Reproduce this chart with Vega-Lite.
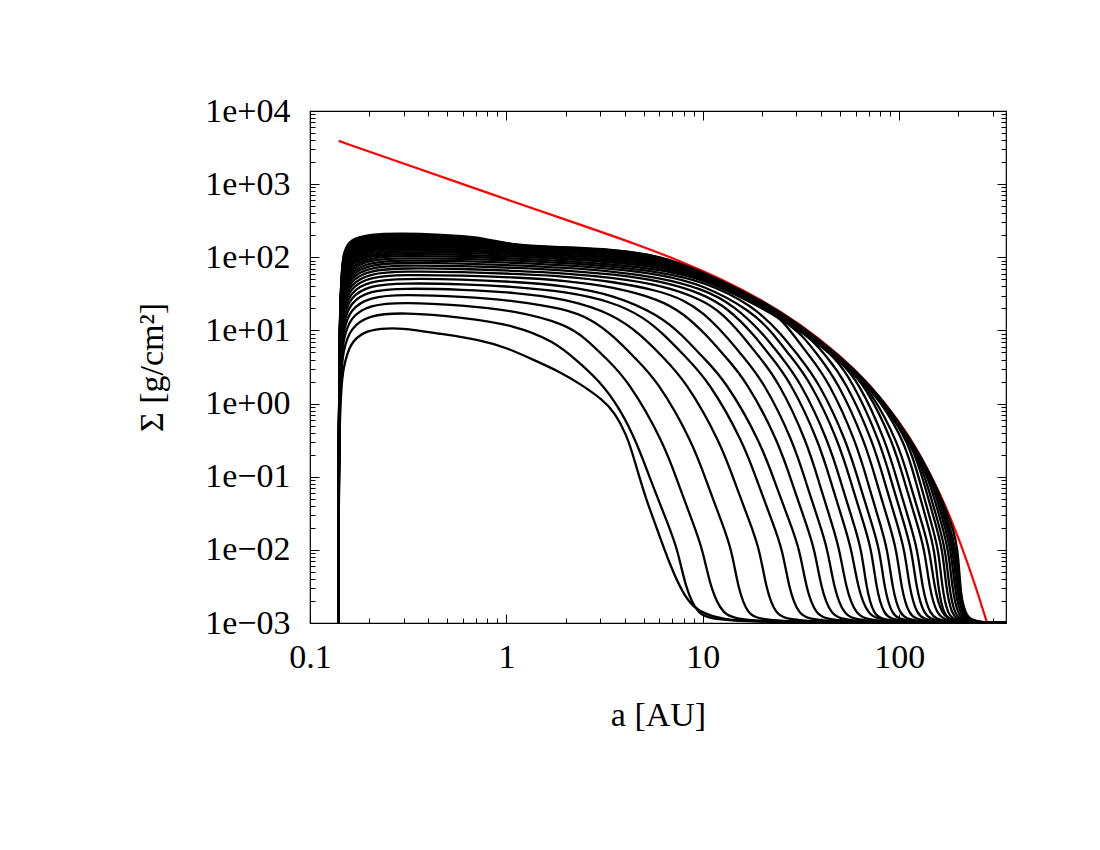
{
"$schema": "https://vega.github.io/schema/vega-lite/v6.json",
"width": 696, "height": 512,
"autosize": "none",
"padding": {"left": 310, "top": 111, "right": 94, "bottom": 227},
"background": "white",
"config": {"view": {"stroke": "#000", "strokeWidth": 1.2}, "font": "Liberation Serif"},
"datasets": {
"red": [
{"a":0.14,"s":3900},{"a":0.3,"s":1912},{"a":1,"s":620},{"a":2.99,"s":226},{"a":4.78,"s":144.5},{"a":7.64,"s":89.4},{"a":12.2,"s":51.8},{"a":19.5,"s":27.2},{"a":31.2,"s":12.4},{"a":49.8,"s":4.63},{"a":70.8,"s":1.84},{"a":100.6,"s":0.566},{"a":127.2,"s":0.209},{"a":160.7,"s":0.0604},{"a":180.7,"s":0.0292},{"a":203.2,"s":0.0133},{"a":242.2,"s":0.0035},{"a":272.3,"s":0.00128},{"a":288.8,"s":0.00078}
],
"curves": [
{"k":0,"a":0.139,"s":0.0001},{"k":0,"a":0.1402,"s":1.1},{"k":0,"a":0.148,"s":3.2},{"k":0,"a":0.16,"s":6.7},{"k":0,"a":0.187,"s":9.6},{"k":0,"a":0.23,"s":10.6},{"k":0,"a":0.287,"s":10.9},{"k":0,"a":0.459,"s":9.0},{"k":0,"a":0.733,"s":7.47},{"k":0,"a":1.006,"s":5.78},{"k":0,"a":1.317,"s":4.17},{"k":0,"a":1.87,"s":2.73},{"k":0,"a":2.366,"s":1.87},{"k":0,"a":3.11,"s":1.12},{"k":0,"a":3.57,"s":0.745},{"k":0,"a":4.09,"s":0.37},{"k":0,"a":4.35,"s":0.224},{"k":0,"a":4.68,"s":0.1145},{"k":0,"a":5.15,"s":0.049},{"k":0,"a":5.81,"s":0.0203},{"k":0,"a":6.79,"s":0.0063},{"k":0,"a":7.94,"s":0.0025},{"k":0,"a":8.93,"s":0.00166},{"k":0,"a":10.44,"s":0.0013},{"k":0,"a":12.94,"s":0.00112},{"k":0,"a":17.3,"s":0.00103},{"k":0,"a":400,"s":0.001},
{"k":1,"a":0.139,"s":0.0001},{"k":1,"a":0.1402,"s":1.8},{"k":1,"a":0.148,"s":5.5},{"k":1,"a":0.16,"s":10.7},{"k":1,"a":0.2,"s":16.3},{"k":1,"a":0.3,"s":17.7},{"k":1,"a":0.6,"s":15.1},{"k":1,"a":1.1,"s":11.8},{"k":1,"a":1.749,"s":7.1},{"k":1,"a":2.28,"s":3.9},{"k":1,"a":2.98,"s":2.05},{"k":1,"a":3.79,"s":0.85},{"k":1,"a":4.6,"s":0.3},{"k":1,"a":5.58,"s":0.0736},{"k":1,"a":6.61,"s":0.0235},{"k":1,"a":7.46,"s":0.01},{"k":1,"a":8.18,"s":0.003},{"k":1,"a":9.39,"s":0.0013},{"k":1,"a":11.82,"s":0.001},{"k":1,"a":400,"s":0.001},
{"k":2,"a":0.139,"s":0.0001},{"k":2,"a":0.1402,"s":2.5},{"k":2,"a":0.148,"s":7.8},{"k":2,"a":0.16,"s":15},{"k":2,"a":0.2,"s":22.5},{"k":2,"a":0.3,"s":24.4},{"k":2,"a":0.6,"s":22.1},{"k":2,"a":1.1,"s":18.7},{"k":2,"a":2,"s":12.2},{"k":2,"a":2.512,"s":7.9},{"k":2,"a":3.24,"s":4.07},{"k":2,"a":4.17,"s":2.07},{"k":2,"a":6.31,"s":0.3},{"k":2,"a":7.59,"s":0.0736},{"k":2,"a":8.91,"s":0.0235},{"k":2,"a":10,"s":0.01},{"k":2,"a":10.96,"s":0.003},{"k":2,"a":12.59,"s":0.0013},{"k":2,"a":15.85,"s":0.001},{"k":2,"a":400,"s":0.001},
{"k":3,"a":0.139,"s":0.0001},{"k":3,"a":0.1402,"s":3.3},{"k":3,"a":0.148,"s":10.3},{"k":3,"a":0.16,"s":19.3},{"k":3,"a":0.2,"s":28.8},{"k":3,"a":0.3,"s":31.1},{"k":3,"a":0.6,"s":29},{"k":3,"a":1.1,"s":25.6},{"k":3,"a":2,"s":19.7},{"k":3,"a":2.7,"s":14.3},{"k":3,"a":3.53,"s":8.3},{"k":3,"a":4.55,"s":4.1},{"k":3,"a":5.86,"s":2.08},{"k":3,"a":8.87,"s":0.3},{"k":3,"a":10.66,"s":0.0736},{"k":3,"a":12.52,"s":0.0235},{"k":3,"a":14.05,"s":0.01},{"k":3,"a":15.13,"s":0.003},{"k":3,"a":16.89,"s":0.0013},{"k":3,"a":20.32,"s":0.001},{"k":3,"a":400,"s":0.001},
{"k":4,"a":0.139,"s":0.0001},{"k":4,"a":0.1402,"s":4},{"k":4,"a":0.148,"s":12.9},{"k":4,"a":0.16,"s":23.8},{"k":4,"a":0.2,"s":35.1},{"k":4,"a":0.3,"s":37.8},{"k":4,"a":0.6,"s":36.2},{"k":4,"a":1.1,"s":33},{"k":4,"a":2,"s":27.2},{"k":4,"a":3.5,"s":16.8},{"k":4,"a":4.9,"s":8.5},{"k":4,"a":6.3,"s":4.25},{"k":4,"a":8.13,"s":2.09},{"k":4,"a":12.3,"s":0.3},{"k":4,"a":14.8,"s":0.0736},{"k":4,"a":17.4,"s":0.0235},{"k":4,"a":19.5,"s":0.01},{"k":4,"a":21,"s":0.003},{"k":4,"a":23.4,"s":0.0013},{"k":4,"a":28.2,"s":0.001},{"k":4,"a":400,"s":0.001},
{"k":5,"a":0.139,"s":0.0001},{"k":5,"a":0.1402,"s":4.8},{"k":5,"a":0.148,"s":15.6},{"k":5,"a":0.16,"s":28.3},{"k":5,"a":0.2,"s":41.4},{"k":5,"a":0.3,"s":44.5},{"k":5,"a":0.6,"s":43.1},{"k":5,"a":1.1,"s":39.6},{"k":5,"a":2,"s":34},{"k":5,"a":3.5,"s":24.5},{"k":5,"a":5,"s":15.2},{"k":5,"a":6.41,"s":8.6},{"k":5,"a":8.2,"s":4.3},{"k":5,"a":10.63,"s":2.1},{"k":5,"a":16.1,"s":0.3},{"k":5,"a":19.35,"s":0.0736},{"k":5,"a":22.7,"s":0.0235},{"k":5,"a":25.5,"s":0.01},{"k":5,"a":27.45,"s":0.003},{"k":5,"a":30.65,"s":0.0013},{"k":5,"a":36.85,"s":0.001},{"k":5,"a":400,"s":0.001},
{"k":6,"a":0.139,"s":0.0001},{"k":6,"a":0.1402,"s":5.6},{"k":6,"a":0.148,"s":18.4},{"k":6,"a":0.16,"s":33},{"k":6,"a":0.2,"s":47.7},{"k":6,"a":0.3,"s":51.2},{"k":6,"a":0.6,"s":49.9},{"k":6,"a":1.1,"s":46.3},{"k":6,"a":2,"s":40.8},{"k":6,"a":3.5,"s":30.8},{"k":6,"a":6,"s":16.2},{"k":6,"a":7.84,"s":8.7},{"k":6,"a":10,"s":4.3},{"k":6,"a":13,"s":2.1},{"k":6,"a":19.7,"s":0.3},{"k":6,"a":23.7,"s":0.0736},{"k":6,"a":27.8,"s":0.0235},{"k":6,"a":31.2,"s":0.01},{"k":6,"a":33.6,"s":0.003},{"k":6,"a":37.5,"s":0.0013},{"k":6,"a":45.1,"s":0.001},{"k":6,"a":400,"s":0.001},
{"k":7,"a":0.139,"s":0.0001},{"k":7,"a":0.1402,"s":6.5},{"k":7,"a":0.148,"s":21.4},{"k":7,"a":0.16,"s":37.7},{"k":7,"a":0.2,"s":54.1},{"k":7,"a":0.3,"s":57.9},{"k":7,"a":0.6,"s":56.5},{"k":7,"a":1.1,"s":53.3},{"k":7,"a":2,"s":48},{"k":7,"a":3.5,"s":39.4},{"k":7,"a":6,"s":26.7},{"k":7,"a":8,"s":17},{"k":7,"a":10.43,"s":8.7},{"k":7,"a":12.9,"s":4.5},{"k":7,"a":16.6,"s":2.1},{"k":7,"a":24.35,"s":0.3},{"k":7,"a":28.85,"s":0.0736},{"k":7,"a":33.46,"s":0.0235},{"k":7,"a":37.2,"s":0.01},{"k":7,"a":40.05,"s":0.003},{"k":7,"a":44.7,"s":0.0013},{"k":7,"a":53.8,"s":0.001},{"k":7,"a":400,"s":0.001},
{"k":8,"a":0.139,"s":0.0001},{"k":8,"a":0.1402,"s":7.3},{"k":8,"a":0.148,"s":24.5},{"k":8,"a":0.16,"s":42.5},{"k":8,"a":0.2,"s":60.5},{"k":8,"a":0.3,"s":64.6},{"k":8,"a":0.6,"s":63},{"k":8,"a":1.1,"s":59.4},{"k":8,"a":2,"s":54.9},{"k":8,"a":3.5,"s":46.5},{"k":8,"a":6,"s":34.9},{"k":8,"a":8,"s":26.1},{"k":8,"a":10,"s":17.7},{"k":8,"a":13,"s":8.7},{"k":8,"a":15.9,"s":4.5},{"k":8,"a":20.2,"s":2.1},{"k":8,"a":29,"s":0.3},{"k":8,"a":34,"s":0.0736},{"k":8,"a":39.2,"s":0.0235},{"k":8,"a":43.3,"s":0.01},{"k":8,"a":46.6,"s":0.003},{"k":8,"a":52,"s":0.0013},{"k":8,"a":62.6,"s":0.001},{"k":8,"a":400,"s":0.001},
{"k":9,"a":0.139,"s":0.0001},{"k":9,"a":0.1402,"s":8.2},{"k":9,"a":0.148,"s":27.8},{"k":9,"a":0.16,"s":47.5},{"k":9,"a":0.2,"s":66.9},{"k":9,"a":0.3,"s":71.3},{"k":9,"a":0.6,"s":69.5},{"k":9,"a":1.1,"s":65.6},{"k":9,"a":2,"s":60.6},{"k":9,"a":3.5,"s":52.6},{"k":9,"a":6,"s":42.3},{"k":9,"a":10,"s":26.4},{"k":9,"a":12.6,"s":16.9},{"k":9,"a":15.8,"s":8.75},{"k":9,"a":19.15,"s":4.5},{"k":9,"a":24.1,"s":2.1},{"k":9,"a":34,"s":0.3},{"k":9,"a":39.6,"s":0.0736},{"k":9,"a":45.3,"s":0.0235},{"k":9,"a":49.8,"s":0.01},{"k":9,"a":53.6,"s":0.003},{"k":9,"a":59.9,"s":0.0013},{"k":9,"a":72,"s":0.001},{"k":9,"a":400,"s":0.001},
{"k":10,"a":0.139,"s":0.0001},{"k":10,"a":0.1402,"s":9.1},{"k":10,"a":0.148,"s":31.2},{"k":10,"a":0.16,"s":52.5},{"k":10,"a":0.2,"s":73.3},{"k":10,"a":0.3,"s":78},{"k":10,"a":0.6,"s":76},{"k":10,"a":1.1,"s":71.8},{"k":10,"a":2,"s":66.3},{"k":10,"a":3.5,"s":58.5},{"k":10,"a":6,"s":47.9},{"k":10,"a":10,"s":32},{"k":10,"a":13.5,"s":19.8},{"k":10,"a":18.2,"s":8.8},{"k":10,"a":22,"s":4.5},{"k":10,"a":27.7,"s":2.1},{"k":10,"a":39.1,"s":0.3},{"k":10,"a":45.6,"s":0.0736},{"k":10,"a":52.1,"s":0.0235},{"k":10,"a":57.3,"s":0.01},{"k":10,"a":61.7,"s":0.003},{"k":10,"a":68.9,"s":0.0013},{"k":10,"a":82.8,"s":0.001},{"k":10,"a":400,"s":0.001},
{"k":11,"a":0.139,"s":0.0001},{"k":11,"a":0.1402,"s":10},{"k":11,"a":0.148,"s":34.7},{"k":11,"a":0.16,"s":57.6},{"k":11,"a":0.2,"s":79.8},{"k":11,"a":0.3,"s":84.7},{"k":11,"a":0.6,"s":82.6},{"k":11,"a":1.1,"s":77.9},{"k":11,"a":2,"s":72},{"k":11,"a":3.5,"s":64},{"k":11,"a":6,"s":53.1},{"k":11,"a":10,"s":37.2},{"k":11,"a":14.5,"s":21.9},{"k":11,"a":20.5,"s":8.8},{"k":11,"a":24.8,"s":4.5},{"k":11,"a":31.1,"s":2.1},{"k":11,"a":43.9,"s":0.3},{"k":11,"a":51.2,"s":0.0736},{"k":11,"a":58.5,"s":0.0235},{"k":11,"a":64.4,"s":0.01},{"k":11,"a":68.05,"s":0.003},{"k":11,"a":73.9,"s":0.0013},{"k":11,"a":84.9,"s":0.001},{"k":11,"a":400,"s":0.001},
{"k":12,"a":0.139,"s":0.0001},{"k":12,"a":0.1402,"s":11},{"k":12,"a":0.148,"s":38.4},{"k":12,"a":0.16,"s":62.9},{"k":12,"a":0.2,"s":86.3},{"k":12,"a":0.3,"s":91.4},{"k":12,"a":0.6,"s":89.1},{"k":12,"a":1.1,"s":84.1},{"k":12,"a":2,"s":77.7},{"k":12,"a":3.5,"s":69.5},{"k":12,"a":6,"s":58.3},{"k":12,"a":10,"s":42.7},{"k":12,"a":18,"s":18},{"k":12,"a":23,"s":8.8},{"k":12,"a":27.8,"s":4.5},{"k":12,"a":35,"s":2.1},{"k":12,"a":49.4,"s":0.3},{"k":12,"a":57.6,"s":0.0736},{"k":12,"a":65.8,"s":0.0235},{"k":12,"a":72.4,"s":0.01},{"k":12,"a":76.5,"s":0.003},{"k":12,"a":83.1,"s":0.0013},{"k":12,"a":95.4,"s":0.001},{"k":12,"a":400,"s":0.001},
{"k":13,"a":0.139,"s":0.0001},{"k":13,"a":0.1402,"s":11.9},{"k":13,"a":0.148,"s":42.2},{"k":13,"a":0.16,"s":68.2},{"k":13,"a":0.2,"s":92.8},{"k":13,"a":0.3,"s":98.1},{"k":13,"a":0.6,"s":95.6},{"k":13,"a":1.1,"s":90.3},{"k":13,"a":2,"s":83.4},{"k":13,"a":3.5,"s":74.6},{"k":13,"a":6,"s":63},{"k":13,"a":10,"s":47.5},{"k":13,"a":18,"s":22.1},{"k":13,"a":25.3,"s":8.8},{"k":13,"a":30.6,"s":4.5},{"k":13,"a":38.5,"s":2.1},{"k":13,"a":54.3,"s":0.3},{"k":13,"a":63.3,"s":0.0736},{"k":13,"a":72.3,"s":0.0235},{"k":13,"a":79.6,"s":0.01},{"k":13,"a":84.1,"s":0.003},{"k":13,"a":91.4,"s":0.0013},{"k":13,"a":104.9,"s":0.001},{"k":13,"a":400,"s":0.001},
{"k":14,"a":0.139,"s":0.0001},{"k":14,"a":0.1402,"s":12.9},{"k":14,"a":0.148,"s":46.1},{"k":14,"a":0.16,"s":73.7},{"k":14,"a":0.2,"s":99.3},{"k":14,"a":0.3,"s":104.8},{"k":14,"a":0.6,"s":102.2},{"k":14,"a":1.1,"s":96.4},{"k":14,"a":2,"s":89.1},{"k":14,"a":3.5,"s":79.6},{"k":14,"a":6,"s":68.5},{"k":14,"a":10,"s":51.1},{"k":14,"a":18,"s":23.7},{"k":14,"a":23,"s":16.2},{"k":14,"a":25,"s":14.2},{"k":14,"a":28.9,"s":8.8},{"k":14,"a":34.8,"s":4.5},{"k":14,"a":43.4,"s":2.1},{"k":14,"a":60.5,"s":0.3},{"k":14,"a":70.1,"s":0.0736},{"k":14,"a":79.7,"s":0.0235},{"k":14,"a":87.4,"s":0.01},{"k":14,"a":92.4,"s":0.003},{"k":14,"a":100.3,"s":0.0013},{"k":14,"a":115.2,"s":0.001},{"k":14,"a":400,"s":0.001},
{"k":15,"a":0.139,"s":0.0001},{"k":15,"a":0.1402,"s":13.9},{"k":15,"a":0.148,"s":50.2},{"k":15,"a":0.16,"s":79.2},{"k":15,"a":0.2,"s":105.9},{"k":15,"a":0.3,"s":111.5},{"k":15,"a":0.6,"s":108.7},{"k":15,"a":1.1,"s":102.6},{"k":15,"a":2,"s":94.8},{"k":15,"a":3.5,"s":84.7},{"k":15,"a":6,"s":74},{"k":15,"a":10,"s":51.9},{"k":15,"a":18,"s":24.0},{"k":15,"a":23,"s":16.5},{"k":15,"a":25,"s":14.35},{"k":15,"a":32.1,"s":8.8},{"k":15,"a":38.7,"s":4.5},{"k":15,"a":48.2,"s":2.1},{"k":15,"a":67.2,"s":0.3},{"k":15,"a":77.8,"s":0.0736},{"k":15,"a":88.6,"s":0.0235},{"k":15,"a":97.1,"s":0.01},{"k":15,"a":102.6,"s":0.003},{"k":15,"a":111.5,"s":0.0013},{"k":15,"a":128,"s":0.001},{"k":15,"a":400,"s":0.001},
{"k":16,"a":0.139,"s":0.0001},{"k":16,"a":0.1402,"s":15},{"k":16,"a":0.148,"s":54.4},{"k":16,"a":0.16,"s":84.8},{"k":16,"a":0.2,"s":112.5},{"k":16,"a":0.3,"s":118.2},{"k":16,"a":0.6,"s":115.2},{"k":16,"a":1.1,"s":108.7},{"k":16,"a":2,"s":100.5},{"k":16,"a":3.5,"s":89.8},{"k":16,"a":6,"s":79.5},{"k":16,"a":10,"s":52.7},{"k":16,"a":18,"s":24.4},{"k":16,"a":23,"s":16.7},{"k":16,"a":30,"s":10.65},{"k":16,"a":35.3,"s":7.78},{"k":16,"a":42.5,"s":4.5},{"k":16,"a":53,"s":2.1},{"k":16,"a":73.8,"s":0.3},{"k":16,"a":85.5,"s":0.0736},{"k":16,"a":97.3,"s":0.0235},{"k":16,"a":106.7,"s":0.01},{"k":16,"a":112.8,"s":0.003},{"k":16,"a":122.5,"s":0.0013},{"k":16,"a":140.6,"s":0.001},{"k":16,"a":400,"s":0.001},
{"k":17,"a":0.139,"s":0.0001},{"k":17,"a":0.1402,"s":16},{"k":17,"a":0.148,"s":58.7},{"k":17,"a":0.16,"s":90.6},{"k":17,"a":0.2,"s":119.2},{"k":17,"a":0.3,"s":124.9},{"k":17,"a":0.6,"s":121.8},{"k":17,"a":1.1,"s":114.9},{"k":17,"a":2,"s":106.2},{"k":17,"a":3.5,"s":94.9},{"k":17,"a":6,"s":84},{"k":17,"a":10,"s":53.4},{"k":17,"a":18,"s":24.7},{"k":17,"a":23,"s":17.0},{"k":17,"a":30,"s":10.8},{"k":17,"a":38.3,"s":6.68},{"k":17,"a":46.1,"s":4.48},{"k":17,"a":57.5,"s":2.1},{"k":17,"a":80.1,"s":0.3},{"k":17,"a":92.8,"s":0.0736},{"k":17,"a":105.6,"s":0.0235},{"k":17,"a":115.8,"s":0.01},{"k":17,"a":122.4,"s":0.003},{"k":17,"a":132.9,"s":0.0013},{"k":17,"a":152.6,"s":0.001},{"k":17,"a":400,"s":0.001},
{"k":18,"a":0.139,"s":0.0001},{"k":18,"a":0.1402,"s":17.1},{"k":18,"a":0.148,"s":63.2},{"k":18,"a":0.16,"s":96.3},{"k":18,"a":0.2,"s":125.8},{"k":18,"a":0.3,"s":131.6},{"k":18,"a":0.6,"s":128.3},{"k":18,"a":1.1,"s":121.1},{"k":18,"a":2,"s":111.9},{"k":18,"a":3.5,"s":100},{"k":18,"a":6,"s":89.5},{"k":18,"a":10,"s":54.2},{"k":18,"a":18,"s":25.1},{"k":18,"a":23,"s":17.2},{"k":18,"a":30,"s":10.96},{"k":18,"a":41.1,"s":5.86},{"k":18,"a":49.4,"s":3.88},{"k":18,"a":61.7,"s":2.1},{"k":18,"a":85.9,"s":0.3},{"k":18,"a":99.6,"s":0.0736},{"k":18,"a":113.3,"s":0.0235},{"k":18,"a":124.2,"s":0.01},{"k":18,"a":131.3,"s":0.003},{"k":18,"a":142.6,"s":0.0013},{"k":18,"a":163.7,"s":0.001},{"k":18,"a":400,"s":0.001},
{"k":19,"a":0.139,"s":0.0001},{"k":19,"a":0.1402,"s":18.2},{"k":19,"a":0.148,"s":67.8},{"k":19,"a":0.16,"s":102.2},{"k":19,"a":0.2,"s":132.5},{"k":19,"a":0.3,"s":138.3},{"k":19,"a":0.6,"s":134.8},{"k":19,"a":1.1,"s":127.2},{"k":19,"a":2,"s":117.6},{"k":19,"a":3.5,"s":105.1},{"k":19,"a":6,"s":92},{"k":19,"a":10,"s":54.9},{"k":19,"a":18,"s":25.4},{"k":19,"a":23,"s":17.4},{"k":19,"a":30,"s":11.1},{"k":19,"a":44.7,"s":4.93},{"k":19,"a":53.7,"s":3.22},{"k":19,"a":67,"s":1.8},{"k":19,"a":93.3,"s":0.3},{"k":19,"a":108.1,"s":0.0736},{"k":19,"a":123,"s":0.0235},{"k":19,"a":134.9,"s":0.01},{"k":19,"a":142.6,"s":0.003},{"k":19,"a":154.9,"s":0.0013},{"k":19,"a":177.8,"s":0.001},{"k":19,"a":400,"s":0.001},
{"k":20,"a":0.139,"s":0.0001},{"k":20,"a":0.1402,"s":19.3},{"k":20,"a":0.148,"s":72.5},{"k":20,"a":0.16,"s":108.3},{"k":20,"a":0.2,"s":139.2},{"k":20,"a":0.3,"s":145},{"k":20,"a":0.6,"s":141.4},{"k":20,"a":1.1,"s":130.2},{"k":20,"a":2,"s":120.6},{"k":20,"a":3.5,"s":110.2},{"k":20,"a":6,"s":93.3},{"k":20,"a":10,"s":55.7},{"k":20,"a":18,"s":25.8},{"k":20,"a":23,"s":17.7},{"k":20,"a":30,"s":11.3},{"k":20,"a":47.3,"s":4.4},{"k":20,"a":56.9,"s":2.82},{"k":20,"a":71,"s":1.54},{"k":20,"a":98.9,"s":0.3},{"k":20,"a":114.6,"s":0.0736},{"k":20,"a":130.4,"s":0.0235},{"k":20,"a":143,"s":0.01},{"k":20,"a":151.2,"s":0.003},{"k":20,"a":164.2,"s":0.0013},{"k":20,"a":188.5,"s":0.001},{"k":20,"a":400,"s":0.001},
{"k":21,"a":0.139,"s":0.0001},{"k":21,"a":0.1402,"s":20.5},{"k":21,"a":0.148,"s":77.4},{"k":21,"a":0.16,"s":114.4},{"k":21,"a":0.2,"s":145.9},{"k":21,"a":0.3,"s":151.7},{"k":21,"a":0.6,"s":147.9},{"k":21,"a":1.1,"s":132},{"k":21,"a":2,"s":122.2},{"k":21,"a":3.5,"s":114.2},{"k":21,"a":6,"s":94.6},{"k":21,"a":10,"s":56.5},{"k":21,"a":18,"s":26.1},{"k":21,"a":23,"s":17.9},{"k":21,"a":30,"s":11.4},{"k":21,"a":45,"s":5.0},{"k":21,"a":53.8,"s":3.31},{"k":21,"a":63.9,"s":2.13},{"k":21,"a":78.6,"s":1.17},{"k":21,"a":107.3,"s":0.3},{"k":21,"a":123.2,"s":0.0736},{"k":21,"a":139,"s":0.0235},{"k":21,"a":151.6,"s":0.01},{"k":21,"a":158,"s":0.003},{"k":21,"a":168.1,"s":0.0013},{"k":21,"a":186.5,"s":0.001},{"k":21,"a":400,"s":0.001},
{"k":22,"a":0.139,"s":0.0001},{"k":22,"a":0.1402,"s":21.7},{"k":22,"a":0.148,"s":82.4},{"k":22,"a":0.16,"s":120.5},{"k":22,"a":0.2,"s":152.7},{"k":22,"a":0.3,"s":158.4},{"k":22,"a":0.6,"s":154.4},{"k":22,"a":1.1,"s":133.8},{"k":22,"a":2,"s":123.8},{"k":22,"a":3.5,"s":115.7},{"k":22,"a":6,"s":95.8},{"k":22,"a":10,"s":57.2},{"k":22,"a":18,"s":26.5},{"k":22,"a":23,"s":18.2},{"k":22,"a":30,"s":11.6},{"k":22,"a":45,"s":5.06},{"k":22,"a":56.4,"s":2.97},{"k":22,"a":67,"s":1.87},{"k":22,"a":82.4,"s":1.02},{"k":22,"a":112.5,"s":0.3},{"k":22,"a":129.2,"s":0.0736},{"k":22,"a":145.7,"s":0.0235},{"k":22,"a":158.9,"s":0.01},{"k":22,"a":165.6,"s":0.003},{"k":22,"a":176.2,"s":0.0013},{"k":22,"a":195.4,"s":0.001},{"k":22,"a":400,"s":0.001},
{"k":23,"a":0.139,"s":0.0001},{"k":23,"a":0.1402,"s":22.8},{"k":23,"a":0.148,"s":87.5},{"k":23,"a":0.16,"s":126.8},{"k":23,"a":0.2,"s":159.5},{"k":23,"a":0.3,"s":165.1},{"k":23,"a":0.6,"s":161},{"k":23,"a":1.1,"s":135.6},{"k":23,"a":2,"s":125.5},{"k":23,"a":3.5,"s":117.2},{"k":23,"a":6,"s":97.1},{"k":23,"a":10,"s":58},{"k":23,"a":18,"s":26.8},{"k":23,"a":23,"s":18.4},{"k":23,"a":30,"s":11.7},{"k":23,"a":45,"s":5.13},{"k":23,"a":59.1,"s":2.66},{"k":23,"a":70.2,"s":1.65},{"k":23,"a":86.4,"s":0.875},{"k":23,"a":117.9,"s":0.266},{"k":23,"a":135.3,"s":0.0736},{"k":23,"a":152.7,"s":0.0235},{"k":23,"a":166.5,"s":0.01},{"k":23,"a":173.5,"s":0.003},{"k":23,"a":184.6,"s":0.0013},{"k":23,"a":204.8,"s":0.001},{"k":23,"a":400,"s":0.001},
{"k":24,"a":0.139,"s":0.0001},{"k":24,"a":0.1402,"s":24.1},{"k":24,"a":0.148,"s":92.8},{"k":24,"a":0.16,"s":133.3},{"k":24,"a":0.2,"s":166.3},{"k":24,"a":0.3,"s":171.8},{"k":24,"a":0.6,"s":167.5},{"k":24,"a":1.1,"s":137.3},{"k":24,"a":2,"s":127.1},{"k":24,"a":3.5,"s":118.8},{"k":24,"a":6,"s":98.4},{"k":24,"a":10,"s":58.7},{"k":24,"a":18,"s":27.2},{"k":24,"a":23,"s":18.7},{"k":24,"a":30,"s":11.9},{"k":24,"a":45,"s":5.2},{"k":24,"a":61.2,"s":2.46},{"k":24,"a":72.7,"s":1.51},{"k":24,"a":89.4,"s":0.777},{"k":24,"a":122,"s":0.225},{"k":24,"a":140.1,"s":0.0736},{"k":24,"a":158.1,"s":0.0235},{"k":24,"a":172.4,"s":0.01},{"k":24,"a":179.7,"s":0.003},{"k":24,"a":191.2,"s":0.0013},{"k":24,"a":212.1,"s":0.001},{"k":24,"a":400,"s":0.001},
{"k":25,"a":0.139,"s":0.0001},{"k":25,"a":0.1402,"s":25.3},{"k":25,"a":0.148,"s":98.2},{"k":25,"a":0.16,"s":139.8},{"k":25,"a":0.2,"s":173.1},{"k":25,"a":0.3,"s":178.5},{"k":25,"a":0.6,"s":174},{"k":25,"a":1.1,"s":139.1},{"k":25,"a":2,"s":128.8},{"k":25,"a":3.5,"s":120.3},{"k":25,"a":6,"s":99.6},{"k":25,"a":10,"s":59.5},{"k":25,"a":18,"s":27.5},{"k":25,"a":23,"s":18.9},{"k":25,"a":30,"s":12.0},{"k":25,"a":45,"s":5.26},{"k":25,"a":63.4,"s":2.26},{"k":25,"a":75.3,"s":1.38},{"k":25,"a":92.7,"s":0.692},{"k":25,"a":126.4,"s":0.194},{"k":25,"a":145.2,"s":0.0736},{"k":25,"a":163.8,"s":0.0235},{"k":25,"a":178.6,"s":0.01},{"k":25,"a":186.2,"s":0.003},{"k":25,"a":198.1,"s":0.0013},{"k":25,"a":219.7,"s":0.001},{"k":25,"a":400,"s":0.001},
{"k":26,"a":0.139,"s":0.0001},{"k":26,"a":0.1402,"s":26.5},{"k":26,"a":0.148,"s":103.7},{"k":26,"a":0.16,"s":146.5},{"k":26,"a":0.2,"s":180},{"k":26,"a":0.3,"s":185.2},{"k":26,"a":0.6,"s":180.6},{"k":26,"a":1.1,"s":140.9},{"k":26,"a":2,"s":130.4},{"k":26,"a":3.5,"s":121.9},{"k":26,"a":6,"s":100.9},{"k":26,"a":10,"s":60.3},{"k":26,"a":18,"s":27.9},{"k":26,"a":23,"s":19.1},{"k":26,"a":30,"s":12.2},{"k":26,"a":45,"s":5.33},{"k":26,"a":65.2,"s":2.12},{"k":26,"a":77.6,"s":1.27},{"k":26,"a":95.4,"s":0.63},{"k":26,"a":130.2,"s":0.171},{"k":26,"a":149.5,"s":0.0736},{"k":26,"a":168.6,"s":0.0235},{"k":26,"a":183.9,"s":0.01},{"k":26,"a":191.7,"s":0.003},{"k":26,"a":203.9,"s":0.0013},{"k":26,"a":226.2,"s":0.001},{"k":26,"a":400,"s":0.001},
{"k":27,"a":0.139,"s":0.0001},{"k":27,"a":0.1402,"s":27.8},{"k":27,"a":0.148,"s":109.4},{"k":27,"a":0.16,"s":153.1},{"k":27,"a":0.2,"s":186.9},{"k":27,"a":0.3,"s":191.9},{"k":27,"a":0.6,"s":187.1},{"k":27,"a":1.1,"s":142.7},{"k":27,"a":2,"s":132.1},{"k":27,"a":3.5,"s":123.4},{"k":27,"a":6,"s":102.2},{"k":27,"a":10,"s":61},{"k":27,"a":18,"s":28.2},{"k":27,"a":23,"s":19.4},{"k":27,"a":30,"s":12.3},{"k":27,"a":45,"s":5.4},{"k":27,"a":66.8,"s":2.0},{"k":27,"a":79.4,"s":1.2},{"k":27,"a":97.7,"s":0.585},{"k":27,"a":133.3,"s":0.154},{"k":27,"a":153,"s":0.0736},{"k":27,"a":172.7,"s":0.0235},{"k":27,"a":188.3,"s":0.01},{"k":27,"a":196.3,"s":0.003},{"k":27,"a":208.8,"s":0.0013},{"k":27,"a":231.6,"s":0.001},{"k":27,"a":400,"s":0.001},
{"k":28,"a":0.139,"s":0.0001},{"k":28,"a":0.1402,"s":29.1},{"k":28,"a":0.148,"s":115.2},{"k":28,"a":0.16,"s":159.9},{"k":28,"a":0.2,"s":193.8},{"k":28,"a":0.3,"s":198.6},{"k":28,"a":0.6,"s":190.3},{"k":28,"a":1.1,"s":144.4},{"k":28,"a":2,"s":133.7},{"k":28,"a":3.5,"s":124.9},{"k":28,"a":6,"s":103.5},{"k":28,"a":10,"s":61.8},{"k":28,"a":18,"s":28.6},{"k":28,"a":23,"s":19.6},{"k":28,"a":30,"s":12.5},{"k":28,"a":45,"s":5.47},{"k":28,"a":68,"s":1.93},{"k":28,"a":80.8,"s":1.15},{"k":28,"a":99.4,"s":0.555},{"k":28,"a":135.6,"s":0.145},{"k":28,"a":155.7,"s":0.0685},{"k":28,"a":175.7,"s":0.0235},{"k":28,"a":191.6,"s":0.01},{"k":28,"a":199.7,"s":0.003},{"k":28,"a":212.5,"s":0.0013},{"k":28,"a":235.7,"s":0.001},{"k":28,"a":400,"s":0.001},
{"k":29,"a":0.139,"s":0.0001},{"k":29,"a":0.1402,"s":30.4},{"k":29,"a":0.148,"s":121.1},{"k":29,"a":0.16,"s":166.7},{"k":29,"a":0.2,"s":200.8},{"k":29,"a":0.3,"s":205.3},{"k":29,"a":0.6,"s":192.7},{"k":29,"a":1.1,"s":146.2},{"k":29,"a":2,"s":135.4},{"k":29,"a":3.5,"s":126.5},{"k":29,"a":6,"s":104.7},{"k":29,"a":10,"s":62.5},{"k":29,"a":18,"s":28.9},{"k":29,"a":23,"s":19.9},{"k":29,"a":30,"s":12.6},{"k":29,"a":45,"s":5.53},{"k":29,"a":69.2,"s":1.86},{"k":29,"a":82.2,"s":1.1},{"k":29,"a":101.2,"s":0.525},{"k":29,"a":138,"s":0.133},{"k":29,"a":158.5,"s":0.0614},{"k":29,"a":178.8,"s":0.0235},{"k":29,"a":195,"s":0.01},{"k":29,"a":203.2,"s":0.003},{"k":29,"a":216.3,"s":0.0013},{"k":29,"a":239.9,"s":0.001},{"k":29,"a":400,"s":0.001},
{"k":30,"a":0.139,"s":0.0001},{"k":30,"a":0.1402,"s":31.8},{"k":30,"a":0.148,"s":127},{"k":30,"a":0.16,"s":174},{"k":30,"a":0.2,"s":208},{"k":30,"a":0.3,"s":212},{"k":30,"a":0.45,"s":205},{"k":30,"a":0.6,"s":195},{"k":30,"a":0.75,"s":183},{"k":30,"a":0.9,"s":165},{"k":30,"a":1.1,"s":148},{"k":30,"a":1.3,"s":141},{"k":30,"a":2,"s":137},{"k":30,"a":3.5,"s":128},{"k":30,"a":6,"s":106},{"k":30,"a":10,"s":63.3},{"k":30,"a":18,"s":29.3},{"k":30,"a":23,"s":20.1},{"k":30,"a":30,"s":12.8},{"k":30,"a":45,"s":5.6},{"k":30,"a":60,"s":2.79},{"k":30,"a":70,"s":1.82},{"k":30,"a":86,"s":0.957},{"k":30,"a":112,"s":0.353},{"k":30,"a":135,"s":0.15},{"k":30,"a":154,"s":0.0745},{"k":30,"a":175,"s":0.033},{"k":30,"a":190,"s":0.018},{"k":30,"a":198.5,"s":0.01},{"k":30,"a":203,"s":0.0045},{"k":30,"a":208,"s":0.002},{"k":30,"a":215,"s":0.0013},{"k":30,"a":230,"s":0.00105},{"k":30,"a":250,"s":0.001},{"k":30,"a":400,"s":0.001}
]
},
"layer": [
{
"data": {"name": "red"},
"mark": {"type": "line", "color": "#ff0000", "strokeWidth": 2.2, "clip": true, "interpolate": "basis"},
"encoding": {
"x": {"field": "a", "type": "quantitative", "scale": {"type": "log", "domain": [0.1, 350], "nice": false},
"axis": {"orient": "top", "values": [0.1,0.2,0.3,0.4,0.5,0.6,0.7,0.8,0.9,1,2,3,4,5,6,7,8,9,10,20,30,40,50,60,70,80,90,100,200,300], "domain": false, "grid": false, "labels": false, "title": null, "tickColor": "#000", "tickWidth": 1,
"tickSize": {"condition": {"test": "abs(log(datum.value)/LN10 - round(log(datum.value)/LN10)) < 0.001", "value": -9}, "value": -5}}},
"y": {"field": "s", "type": "quantitative", "scale": {"type": "log", "domain": [0.001, 10000], "nice": false},
"axis": {"orient": "right", "values": [0.001,0.002,0.003,0.004,0.005,0.006,0.007,0.008,0.009,0.01,0.02,0.03,0.04,0.05,0.06,0.07,0.08,0.09,0.1,0.2,0.3,0.4,0.5,0.6,0.7,0.8,0.9,1,2,3,4,5,6,7,8,9,10,20,30,40,50,60,70,80,90,100,200,300,400,500,600,700,800,900,1000,2000,3000,4000,5000,6000,7000,8000,9000,10000], "domain": false, "grid": false, "labels": false, "title": null, "tickColor": "#000", "tickWidth": 1,
"tickSize": {"condition": {"test": "abs(log(datum.value)/LN10 - round(log(datum.value)/LN10)) < 0.001", "value": -9}, "value": -5}}}
}
},
{
"data": {"name": "curves"},
"mark": {"type": "line", "color": "#000000", "strokeWidth": 2.3, "clip": true, "interpolate": "basis"},
"encoding": {
"detail": {"field": "k", "type": "nominal"},
"x": {"field": "a", "type": "quantitative", "scale": {"type": "log", "domain": [0.1, 350], "nice": false},
"axis": {"orient": "bottom", "values": [0.1,0.2,0.3,0.4,0.5,0.6,0.7,0.8,0.9,1,2,3,4,5,6,7,8,9,10,20,30,40,50,60,70,80,90,100,200,300], "domain": false, "grid": false, "tickColor": "#000", "tickWidth": 1,
"tickSize": {"condition": {"test": "abs(log(datum.value)/LN10 - round(log(datum.value)/LN10)) < 0.001", "value": -9}, "value": -5},
"labelExpr": "abs(log(datum.value)/LN10 - round(log(datum.value)/LN10)) < 0.001 ? format(datum.value, '~g') : ''",
"labelFont": "Liberation Serif", "labelFontSize": 34, "labelColor": "#000", "labelPadding": 26, "labelOverlap": false, "labelFlush": false, "labelBound": false,
"title": "a [AU]", "titleFont": "Liberation Serif", "titleFontSize": 34, "titleFontWeight": "normal", "titleColor": "#000", "titlePadding": 20}},
"y": {"field": "s", "type": "quantitative", "scale": {"type": "log", "domain": [0.001, 10000], "nice": false},
"axis": {"orient": "left", "values": [0.001,0.002,0.003,0.004,0.005,0.006,0.007,0.008,0.009,0.01,0.02,0.03,0.04,0.05,0.06,0.07,0.08,0.09,0.1,0.2,0.3,0.4,0.5,0.6,0.7,0.8,0.9,1,2,3,4,5,6,7,8,9,10,20,30,40,50,60,70,80,90,100,200,300,400,500,600,700,800,900,1000,2000,3000,4000,5000,6000,7000,8000,9000,10000], "domain": false, "grid": false, "tickColor": "#000", "tickWidth": 1,
"tickSize": {"condition": {"test": "abs(log(datum.value)/LN10 - round(log(datum.value)/LN10)) < 0.001", "value": -9}, "value": -5},
"labelExpr": "abs(log(datum.value)/LN10 - round(log(datum.value)/LN10)) < 0.001 ? '1e' + (round(log(datum.value)/LN10) < 0 ? '−' : '+') + pad(toString(abs(round(log(datum.value)/LN10))), 2, '0', 'left') : ''",
"labelFont": "Liberation Serif", "labelFontSize": 34, "labelColor": "#000", "labelPadding": 29, "labelOverlap": false, "labelFlush": false, "labelBound": false,
"title": "Σ [g/cm²]", "titleFont": "Liberation Serif", "titleFontSize": 34, "titleFontWeight": "normal", "titleColor": "#000", "titlePadding": 35}}
}
}
],
"resolve": {"axis": {"x": "independent", "y": "independent"}}
}
